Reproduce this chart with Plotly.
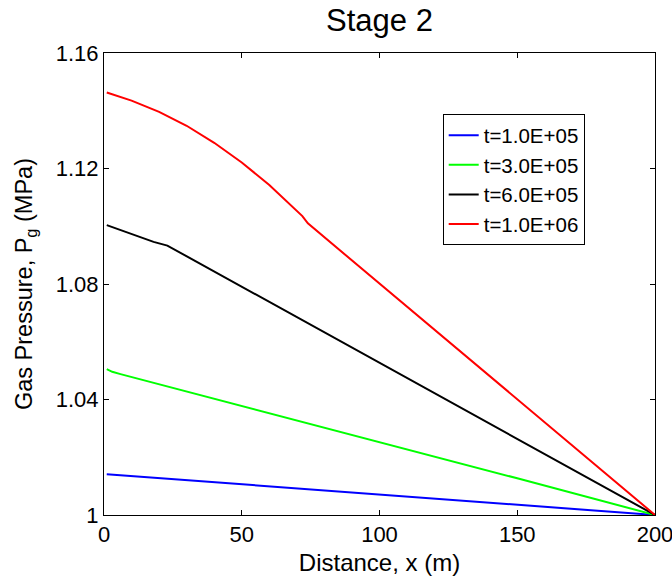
import plotly.graph_objects as go

# Data
blue_x = [1, 50, 100, 150, 200]
blue_y = [1.0141, 1.0106, 1.0070, 1.0035, 1.0]

green_x = [1, 3, 6, 50, 100, 150, 200]
green_y = [1.0505, 1.0496, 1.0488, 1.0378, 1.0253, 1.0127, 1.0]

black_x = [1, 10, 18, 23, 50, 100, 150, 200]
black_y = [1.1004, 1.0973, 1.0946, 1.0933, 1.0791, 1.0527, 1.0264, 1.0]

red_x = [1, 10, 20, 30, 40, 50, 60, 70, 72, 74, 100, 150, 200]
red_y = [1.1463, 1.1435, 1.1396, 1.1348, 1.1289, 1.1221, 1.1143, 1.1054, 1.1035, 1.1010, 1.0801, 1.0401, 1.0]

series_names = ["t=1.0E+05", "t=3.0E+05", "t=6.0E+05", "t=1.0E+06"]
series_colors = ["#0000ff", "#00ff00", "#000000", "#ff0000"]

x_ticks = [0, 50, 100, 150, 200]
y_ticks = [1.0, 1.04, 1.08, 1.12, 1.16]
y_tick_text = ["1", "1.04", "1.08", "1.12", "1.16"]

FONT = "Liberation Sans, Arial, sans-serif"

W, H = 672, 576
ML, MT = 104, 53
PW, PH = 551, 462

fig = go.Figure()
for xs, ys, name, col in zip([blue_x, green_x, black_x, red_x],
                             [blue_y, green_y, black_y, red_y],
                             series_names, series_colors):
    fig.add_trace(go.Scatter(x=xs, y=ys, mode="lines", name=name,
                             line=dict(color=col, width=2)))

axis_common = dict(showline=True, linecolor="black", linewidth=1, mirror="allticks",
                   ticks="inside", ticklen=5, tickcolor="black", showgrid=False,
                   zeroline=False, ticklabeloverflow="allow",
                   tickfont=dict(family=FONT, size=22, color="black"))

fig.update_layout(
    width=W, height=H,
    margin=dict(l=ML, r=W - ML - PW, t=MT, b=H - MT - PH, autoexpand=False),
    paper_bgcolor="white", plot_bgcolor="white",
    font=dict(family=FONT, color="black"),
    title=dict(text="Stage 2", x=(ML + PW / 2) / W, xanchor="center",
               y=1 - 20 / H, yanchor="middle",
               font=dict(family=FONT, size=31, color="black")),
    xaxis=dict(range=[0, 200], tickvals=x_ticks,
               title=dict(text="Distance, x (m)", standoff=8,
                          font=dict(family=FONT, size=24, color="black")),
               **axis_common),
    yaxis=dict(range=[1.0, 1.16], tickvals=y_ticks, ticktext=y_tick_text,
               title=dict(text="Gas Pressure, P<sub>g</sub> (MPa)", standoff=16,
                          font=dict(family=FONT, size=23.5, color="black")),
               **axis_common),
    legend=dict(x=(442.7 - ML) / PW, xanchor="left", y=(MT + PH - 114.3) / PH, yanchor="top",
                bgcolor="white", bordercolor="black", borderwidth=1,
                font=dict(family=FONT, size=20.5, color="black"),
                tracegroupgap=0, itemwidth=30),
    showlegend=True,
)

fig.write_html("out.html", config={"displayModeBar": False},
               post_script="document.body.style.margin='0';document.body.style.overflow='hidden';")
